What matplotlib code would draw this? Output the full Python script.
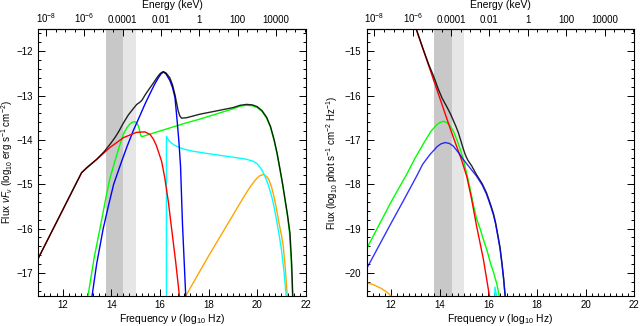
#!/usr/bin/env python
# coding: utf-8

import numpy as np
import matplotlib
matplotlib.use("Agg")
from matplotlib import pyplot as plt
from matplotlib.ticker import MultipleLocator, FixedLocator, FixedFormatter

plt.rcParams["font.family"] = ["Liberation Sans", "DejaVu Sans"]
plt.rcParams["mathtext.fontset"] = "custom"
plt.rcParams["mathtext.rm"] = "Liberation Sans"
plt.rcParams["mathtext.it"] = "Liberation Sans:italic"

# ---- left panel: nu F_nu (log10 erg s-1 cm-2) vs log10 nu ----
nuf_black_x = [11.0, 12.78, 13.0, 13.4, 13.7, 13.95, 14.15, 14.3, 14.5, 14.7, 14.9, 15.05,
               15.18, 15.27, 15.4, 15.55, 15.73, 15.9, 16.02, 16.14, 16.25, 16.41, 16.52,
               16.62, 16.75, 16.82, 16.89, 17.1, 17.65, 18.3, 19.02, 19.3, 19.56, 19.8,
               20.0, 20.2, 20.39, 20.55, 20.7, 20.82, 20.93, 21.05, 21.15, 21.25, 21.35,
               21.42, 21.47]
nuf_black_y = [-16.67, -14.74, -14.63, -14.44, -14.27, -14.1, -13.95, -13.82, -13.62, -13.44,
               -13.3, -13.2, -13.15, -13.1, -12.98, -12.86, -12.72, -12.58, -12.5, -12.46,
               -12.49, -12.6, -12.76, -12.98, -13.34, -13.46, -13.51, -13.5, -13.42, -13.35,
               -13.27, -13.22, -13.2, -13.21, -13.25, -13.34, -13.49, -13.7, -14.0, -14.3,
               -14.63, -15.0, -15.35, -15.7, -16.1, -16.8, -17.6]

nuf_red_x = [11.0, 12.78, 13.0, 13.4, 13.95, 14.5, 15.04, 15.39, 15.6, 15.73, 15.85, 15.93,
             16.07, 16.2, 16.35, 16.48, 16.65, 16.82]
nuf_red_y = [-16.67, -14.74, -14.62, -14.44, -14.17, -13.95, -13.83, -13.82, -13.88, -13.98,
             -14.12, -14.25, -14.48, -14.85, -15.4, -15.99, -16.75, -17.6]

nuf_green_x = [13.02, 13.3, 13.54, 13.8, 13.95, 14.15, 14.35, 14.5, 14.65, 14.77, 14.87,
               14.97, 15.05, 15.11, 15.15, 15.18, 15.22, 15.25, 16.0, 17.0, 17.65, 18.3,
               19.0, 19.3, 19.56, 19.8, 20.0, 20.2, 20.39, 20.55, 20.7, 20.82, 20.93, 21.05,
               21.15, 21.25, 21.33, 21.4, 21.46]
nuf_green_y = [-17.6, -16.65, -15.99, -15.25, -14.86, -14.48, -14.12, -13.87, -13.72, -13.64,
               -13.6, -13.59, -13.62, -13.68, -13.75, -13.83, -13.9, -13.93, -13.8, -13.63,
               -13.53, -13.42, -13.3, -13.24, -13.22, -13.23, -13.27, -13.36, -13.51, -13.72,
               -14.02, -14.32, -14.65, -15.02, -15.37, -15.72, -16.1, -16.7, -17.6]

nuf_blue_x = [13.19, 13.4, 13.67, 13.9, 14.1, 14.29, 14.43, 14.65, 14.9, 15.15, 15.39,
              15.6, 15.8, 15.95, 16.05, 16.14, 16.25, 16.41, 16.52, 16.62, 16.71, 16.78,
              16.85, 16.93, 17.0, 17.07]
nuf_blue_y = [-17.6, -16.8, -16.0, -15.45, -15.0, -14.7, -14.48, -14.15, -13.8, -13.49,
              -13.19, -12.95, -12.73, -12.59, -12.51, -12.47, -12.51, -12.66, -12.82, -13.04,
              -13.57, -14.02, -14.6, -15.9, -16.75, -17.6]

nuf_cyan_x = [16.27, 16.27, 16.35, 16.45, 16.6, 16.8, 17.0, 17.3, 17.65, 18.1, 18.5, 19.0,
              19.5, 19.84, 20.0, 20.15, 20.3, 20.45, 20.6, 20.7, 20.8, 20.9, 21.0, 21.1, 21.21]
nuf_cyan_y = [-17.6, -13.92, -14.0, -14.06, -14.12, -14.17, -14.21, -14.25, -14.28, -14.32,
              -14.35, -14.39, -14.43, -14.48, -14.54, -14.64, -14.79, -15.0, -15.28, -15.52,
              -15.82, -16.13, -16.48, -16.95, -17.6]

nuf_orange_x = [17.03, 18.0, 19.0, 19.5, 19.75, 19.98, 20.1, 20.25, 20.4, 20.5, 20.6, 20.7,
                20.8, 20.9, 21.0, 21.07, 21.15, 21.25]
nuf_orange_y = [-17.55, -16.62, -15.7, -15.24, -15.03, -14.87, -14.81, -14.78, -14.83, -14.92,
                -15.08, -15.3, -15.57, -15.88, -16.15, -16.38, -16.85, -17.6]

# ---- right panel: photon flux (log10 phot s-1 cm-2 Hz-1) ----
ph_black_x = [13.0, 13.3, 13.55, 13.74, 13.94, 14.1, 14.29, 14.45, 14.56, 14.67, 14.77,
              14.87, 14.97, 15.05, 15.15, 15.32, 15.52, 15.75, 15.93, 16.1, 16.21, 16.3,
              16.4, 16.48, 16.56, 16.63, 16.7]
ph_black_y = [-14.44, -14.92, -15.3, -15.55, -15.85, -16.06, -16.25, -16.42, -16.56, -16.7,
              -16.84, -17.02, -17.2, -17.33, -17.45, -17.59, -17.79, -17.99, -18.2, -18.47,
              -18.66, -18.87, -19.17, -19.42, -19.77, -20.12, -20.6]

ph_red_x = [13.0, 13.5, 14.0, 14.5, 14.9, 15.11, 15.3, 15.52, 15.8, 16.07]
ph_red_y = [-14.45, -15.25, -16.05, -16.85, -17.45, -17.82, -18.3, -18.95, -19.7, -20.6]

ph_green_x = [11.0, 12.0, 12.64, 13.0, 13.4, 13.65, 13.88, 14.0, 14.15, 14.3, 14.42, 14.56,
              14.7, 14.84, 14.97, 15.11, 15.25, 15.4, 15.52, 15.66, 15.8, 15.95, 16.1,
              16.21, 16.35, 16.48]
ph_green_y = [-19.45, -18.4, -17.78, -17.4, -17.02, -16.8, -16.66, -16.61, -16.58, -16.61,
              -16.68, -16.8, -16.99, -17.2, -17.44, -17.75, -18.1, -18.5, -18.78, -19.0,
              -19.25, -19.5, -19.8, -19.98, -20.25, -20.6]

ph_blue_x = [11.0, 12.0, 12.5, 13.05, 13.3, 13.6, 13.9, 14.05, 14.22, 14.4, 14.56, 14.75,
             14.97, 15.2, 15.52, 15.75, 15.93, 16.1, 16.21, 16.3, 16.4, 16.48, 16.56,
             16.63, 16.71]
ph_blue_y = [-19.9, -18.88, -18.38, -17.82, -17.55, -17.33, -17.15, -17.09, -17.06, -17.08,
             -17.14, -17.27, -17.44, -17.6, -17.82, -18.02, -18.23, -18.5, -18.69, -18.9,
             -19.2, -19.45, -19.8, -20.15, -20.6]

ph_cyan_x = [16.27, 16.27, 16.37]
ph_cyan_y = [-20.6, -20.32, -20.6]

ph_orange_x = [11.0, 11.3, 11.6, 11.85, 12.05]
ph_orange_y = [-20.22, -20.27, -20.35, -20.44, -20.55]

# energy axis labels (log10 keV)
energy_ticks = [-8, -6, -4, -2, 0, 2, 4]
energy_labels = ["10$^{-8}$", "10$^{-6}$", "0.0001", "0.01", "1", "100", "10000"]

# bands
band_dark = (13.78, 14.5)
band_light = (14.5, 15.0)


def nu_to_e(x):
    return -8.4 + (np.asarray(x) - 11.0) * 13.95 / 11.0


def e_to_nu(e):
    return 11.0 + (np.asarray(e) + 8.4) * 11.0 / 13.95


def style_axes(ax, ymin, ymax):
    ax.set_xlim(11, 22)
    ax.set_ylim(ymin, ymax)
    ax.axvspan(*band_dark, color="#c8c8c8", lw=0, zorder=0)
    ax.axvspan(*band_light, color="#e6e6e6", lw=0, zorder=0)
    ax.xaxis.set_major_locator(MultipleLocator(2))
    ax.xaxis.set_minor_locator(MultipleLocator(0.25))
    ax.yaxis.set_major_locator(MultipleLocator(1))
    ax.yaxis.set_minor_locator(MultipleLocator(0.2))
    ax.tick_params(which="both", direction="in", top=False, right=True,
                   labelsize=7, width=0.7)
    ax.tick_params(which="major", length=5)
    ax.tick_params(which="minor", length=2.5)
    ax.tick_params(axis="x", pad=3)
    ax.tick_params(axis="y", pad=4)
    for s in ax.spines.values():
        s.set_linewidth(0.8)
    ax.set_xlabel(r"Frequency $\it{\nu}$ (log$_{10}$ Hz)", fontsize=7.5)
    ax.xaxis.set_label_coords(0.5, -0.06)

    sec = ax.secondary_xaxis("top", functions=(nu_to_e, e_to_nu))
    sec.xaxis.set_major_locator(FixedLocator(energy_ticks))
    sec.xaxis.set_major_formatter(FixedFormatter(energy_labels))
    sec.xaxis.set_minor_locator(MultipleLocator(0.5))
    sec.tick_params(which="both", direction="in", labelsize=7, width=0.7, pad=3)
    sec.tick_params(which="major", length=5)
    sec.tick_params(which="minor", length=2.5)
    sec.set_xlabel("Energy (keV)", fontsize=7.5, labelpad=2)
    return sec


fig = plt.figure(figsize=(6.4, 3.26), dpi=100)
ax1 = fig.add_axes([0.0598, 0.092, 0.418, 0.819])
ax2 = fig.add_axes([0.573, 0.092, 0.418, 0.819])

lw = 1.0
style_axes(ax1, -17.52, -11.5)
ax1.plot(nuf_orange_x, nuf_orange_y, color="orange", lw=lw)
ax1.plot(nuf_cyan_x, nuf_cyan_y, color="cyan", lw=lw)
ax1.plot(nuf_green_x, nuf_green_y, color="#00ff00", lw=lw)
ax1.plot(nuf_blue_x, nuf_blue_y, color="blue", lw=lw)
ax1.plot(nuf_red_x, nuf_red_y, color="red", lw=lw)
ax1.plot(nuf_black_x, nuf_black_y, color="black", lw=lw, alpha=0.85)
ax1.set_ylabel(r"Flux $\it{\nu F_\nu}$ (log$_{10}$ erg s$^{-1}$ cm$^{-2}$)", fontsize=7)
ax1.yaxis.set_label_coords(-0.088, 0.5)

style_axes(ax2, -20.52, -14.5)
ax2.plot(ph_orange_x, ph_orange_y, color="orange", lw=lw)
ax2.plot(ph_cyan_x, ph_cyan_y, color="cyan", lw=lw)
ax2.plot(ph_green_x, ph_green_y, color="#00ff00", lw=lw)
ax2.plot(ph_red_x, ph_red_y, color="red", lw=lw)
ax2.plot(ph_black_x, ph_black_y, color="black", lw=lw, alpha=0.85)
ax2.plot(ph_blue_x, ph_blue_y, color="blue", lw=lw, alpha=0.8)
ax2.set_ylabel(r"Flux (log$_{10}$ phot s$^{-1}$ cm$^{-2}$ Hz$^{-1}$)", fontsize=7)
ax2.yaxis.set_label_coords(-0.1, 0.5)

fig.savefig("out.png", dpi=100)
